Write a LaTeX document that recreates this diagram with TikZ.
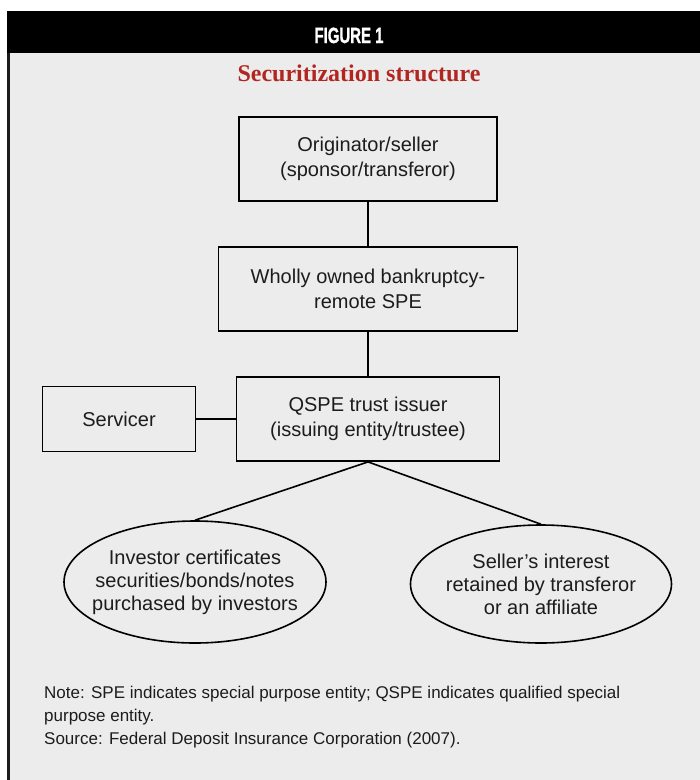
\documentclass[tikz,border=0pt]{standalone}
\usepackage{fontspec}
\setmainfont{Liberation Sans}
\newfontfamily\serifhead{Liberation Serif}
\newfontfamily\headfont[FakeBold=1.5]{Liberation Sans}
\usetikzlibrary{shapes.geometric}
\definecolor{panelgray}{RGB}{236,236,236}
\definecolor{titlered}{RGB}{178,38,33}
\definecolor{inkgray}{RGB}{28,28,28}
\tikzstyle{box} = [rectangle, minimum height=84pt, inner sep=0pt, align=center, draw=black, line width=1.8pt, text=inkgray, font=\fontsize{20}{25}\selectfont]
\tikzstyle{oval} = [ellipse, inner xsep=-16pt, inner ysep=-8pt, align=center, draw=black, line width=1.6pt, text=inkgray, font=\fontsize{20}{23}\selectfont]
\tikzstyle{link} = [line width=1.6pt]
\begin{document}
\begin{tikzpicture}[x=1pt, y=-1pt, node distance=130pt]
        % y runs downward, units are pixels of the page
        \useasboundingbox (0,0) rectangle (700,780);
        \fill[panelgray] (10,53) rectangle (700,780);
        \fill[black] (7,11) rectangle (700,53);
        \draw[line width=3pt, inkgray] (8.5,53) -- (8.5,780);

        \node (fig) [anchor=base, text=white, font=\headfont\bfseries\fontsize{22}{22}\selectfont] at (349,43) {\scalebox{0.68}[1]{FIGURE 1}};
        \node (title) [anchor=base, text=titlered, font=\serifhead\bfseries\fontsize{24}{24}\selectfont] at (359,81) {Securitization structure};

        \node (orig) [box, minimum width=258pt] at (368,159) {Originator/seller\\(sponsor/transferor)};
        \node (spe) [box, minimum width=299pt, below of=orig] {Wholly owned bankruptcy-\\remote SPE};
        \node (qspe) [box, minimum width=263pt, below of=spe] {QSPE trust issuer\\(issuing entity/trustee)};
        \node (servicer) [box, minimum width=153pt, minimum height=65pt, left of=qspe, node distance=249pt] {Servicer};
        \node (investor) [oval, minimum width=262pt, minimum height=122pt] at (195,582) {Investor certificates\\securities/bonds/notes\\purchased by investors};
        \node (retained) [oval, minimum width=261pt, minimum height=118pt] at (541,584) {Seller’s interest\\retained by transferor\\or an affiliate};

        \draw [link] (orig) -- (spe);
        \draw [link] (spe) -- (qspe);
        \draw [link] (servicer) -- (qspe);
        \draw [link] (qspe.south) -- (investor.north);
        \draw [link] (qspe.south) -- (retained.north);

        \node (note) [anchor=north west, align=left, inner sep=0pt, text=inkgray, font=\fontsize{17}{23}\selectfont] at (44,686) {Note: SPE indicates special purpose entity; QSPE indicates qualified special\\purpose entity.\\Source: Federal Deposit Insurance Corporation (2007).};
    \end{tikzpicture}
\end{document}
